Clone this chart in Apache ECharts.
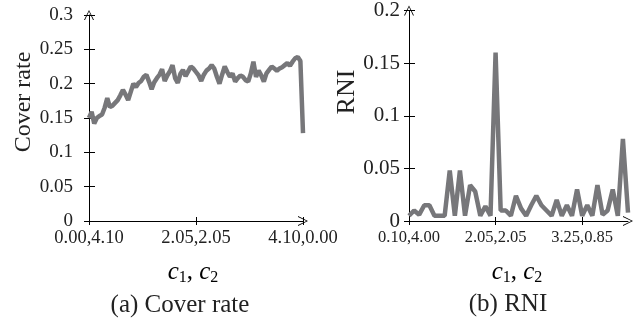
<!DOCTYPE html>
<html>
<head>
<meta charset="utf-8">
<script src="https://cdn.jsdelivr.net/npm/echarts@6/dist/echarts.min.js"></script>
<style>
  html, body { margin: 0; padding: 0; background: #fff; }
  #chart { width: 638px; height: 324px; }
</style>
</head>
<body>
<div id="chart"></div>
<script>
// (a) cover rate, c1 from 0.00 to 4.10 by 0.05
const coverRate = [
  0.150, 0.159, 0.142, 0.150, 0.153, 0.155, 0.165, 0.179, 0.166, 0.168,
  0.172, 0.176, 0.183, 0.191, 0.184, 0.176, 0.188, 0.200, 0.195, 0.201,
  0.204, 0.210, 0.213, 0.203, 0.192, 0.202, 0.208, 0.213, 0.221, 0.204,
  0.212, 0.218, 0.227, 0.208, 0.201, 0.214, 0.220, 0.211, 0.218, 0.225,
  0.222, 0.217, 0.212, 0.204, 0.213, 0.219, 0.222, 0.227, 0.222, 0.210,
  0.200, 0.213, 0.225, 0.217, 0.210, 0.215, 0.203, 0.208, 0.212, 0.210,
  0.205, 0.203, 0.215, 0.232, 0.210, 0.219, 0.212, 0.203, 0.215, 0.220,
  0.225, 0.222, 0.219, 0.222, 0.224, 0.227, 0.230, 0.226, 0.232, 0.237,
  0.239, 0.233, 0.128
];
const coverTickIdx = [0, 41, 82];
const coverTickLabels = ['0.00,4.10', '2.05,2.05', '4.10,0.00'];

// (b) RNI
const rni = [
  0.005, 0.010, 0.006, 0.015, 0.015, 0.005, 0.005, 0.005, 0.048, 0.005,
  0.048, 0.005, 0.034, 0.028, 0.005, 0.014, 0.005, 0.160, 0.010, 0.010,
  0.005, 0.024, 0.012, 0.005, 0.015, 0.024, 0.015, 0.010, 0.005, 0.020,
  0.005, 0.015, 0.005, 0.030, 0.005, 0.015, 0.005, 0.034, 0.006, 0.010,
  0.030, 0.005, 0.078, 0.008
];
const rniTickIdx = [0, 17, 34];
const rniTickLabels = ['0.10,4.00', '2.05,2.05', '3.25,0.85'];

const serif = 'Liberation Serif';
const lineColor = '#77777a';
// open chevron for the axis ends
const arrow = 'path://M0,10 L5,0 L10,10 L9,10 L5,1.6 L1,10 Z';

function cats(n) {
  return Array.from({length: n}, (_, i) => String(i));
}

function xAxes(gridIndex, n, tickIdx, tickLabels, fontSize) {
  const show = (i) => tickIdx.indexOf(i) >= 0;
  const base = {
    type: 'category', gridIndex: gridIndex, data: cats(n), boundaryGap: false
  };
  return [
    Object.assign({}, base, {
      axisLine: {lineStyle: {color: '#000', width: 1}, symbol: ['none', arrow], symbolSize: [11, 10]},
      axisTick: {interval: (i) => show(i), length: 4, lineStyle: {color: '#000'}},
      axisLabel: {
        interval: (i) => show(i),
        formatter: (v, i) => tickLabels[tickIdx.indexOf(i)],
        fontFamily: serif, fontSize: fontSize, color: '#222', margin: 8
      }
    }),
    // inner half of the crossing ticks
    Object.assign({}, base, {
      position: 'bottom',
      axisLine: {show: false},
      axisTick: {inside: true, interval: (i) => show(i), length: 4, lineStyle: {color: '#000'}},
      axisLabel: {show: false}
    })
  ];
}

function yAxes(gridIndex, max, fontSize, margin) {
  const base = {type: 'value', gridIndex: gridIndex, min: 0, max: max, interval: 0.05, splitLine: {show: false}};
  return [
    Object.assign({}, base, {
      axisLine: {show: true, lineStyle: {color: '#000', width: 1}, symbol: ['none', arrow], symbolSize: [11, 10]},
      axisTick: {show: true, length: 5, lineStyle: {color: '#000'}},
      axisLabel: {fontFamily: serif, fontSize: fontSize, color: '#222', margin: margin}
    }),
    Object.assign({}, base, {
      position: 'left',
      axisLine: {show: false},
      axisTick: {show: true, inside: true, length: 6, lineStyle: {color: '#000'}},
      axisLabel: {show: false}
    })
  ];
}

const nameRich = {
  i: {fontFamily: serif, fontStyle: 'italic', fontSize: 25, color: '#222'},
  n: {fontFamily: serif, fontSize: 25, color: '#222'},
  s: {fontFamily: serif, fontSize: 16, color: '#222', padding: [12, 0, 0, 0]}
};

function label(x, y, text, size, rotate) {
  return {
    type: 'text', x: x, y: y, rotation: rotate || 0,
    style: {text: text, font: size + 'px "' + serif + '"', fill: '#222', align: 'center', verticalAlign: 'middle'}
  };
}

function richLabel(x, y) {
  return {
    type: 'text', x: x, y: y,
    style: {text: '{i|c}{s|1}{n|, }{i|c}{s|2}', rich: nameRich, align: 'center', verticalAlign: 'middle'}
  };
}

const chart = echarts.init(document.getElementById('chart'), null, {renderer: 'canvas'});

chart.setOption({
  backgroundColor: '#fff',
  animation: false,
  grid: [
    {left: 89, top: 15, width: 214, height: 206},
    {left: 409, top: 10, width: 219, height: 211}
  ],
  xAxis: xAxes(0, coverRate.length, coverTickIdx, coverTickLabels, 18.5)
    .concat(xAxes(1, rni.length, rniTickIdx, rniTickLabels, 16.5)),
  yAxis: yAxes(0, 0.3, 19, 16).concat(yAxes(1, 0.2, 21, 9)),
  series: [
    {
      type: 'line', xAxisIndex: 0, yAxisIndex: 0, data: coverRate,
      symbol: 'none', lineStyle: {color: lineColor, width: 4.5}
    },
    {
      type: 'line', xAxisIndex: 2, yAxisIndex: 2, data: rni,
      symbol: 'none', lineStyle: {color: lineColor, width: 4.5}
    }
  ],
  graphic: [
    label(24, 102, 'Cover rate', 24, Math.PI / 2),
    label(347, 92, 'RNI', 26, Math.PI / 2),
    richLabel(193, 272),
    richLabel(517, 272),
    label(180, 305, '(a) Cover rate', 25),
    label(508, 304, '(b) RNI', 25)
  ]
});
</script>
</body>
</html>
